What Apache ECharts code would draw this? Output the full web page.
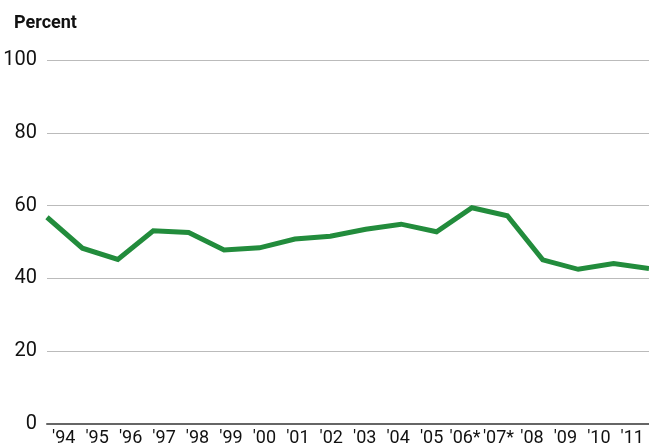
<!DOCTYPE html>
<html>
<head>
<meta charset="utf-8">
<script src="https://cdn.jsdelivr.net/npm/echarts@6/dist/echarts.min.js"></script>
<style>
  html, body { margin: 0; padding: 0; background: #fff; }
  #chart { width: 649px; height: 448px; }
</style>
</head>
<body>
<div id="chart"></div>
<script>
// years on the x axis
var years = ["'94", "'95", "'96", "'97", "'98", "'99", "'00", "'01", "'02", "'03",
             "'04", "'05", "'06*", "'07*", "'08", "'09", "'10", "'11"];
// percent values
var percent = [56.8, 48.3, 45.2, 53.1, 52.6, 47.8, 48.4, 50.8, 51.6, 53.5,
               54.9, 52.8, 59.4, 57.2, 45.1, 42.5, 44.1, 42.7];
var yTicks = [0, 20, 40, 60, 80, 100];

var fontFam = 'Roboto, sans-serif';

var myChart = echarts.init(document.getElementById('chart'));
var option = {
    animation: false,
    backgroundColor: '#ffffff',
    title: {
        text: 'Percent',
        left: 9,
        top: 9,
        textStyle: { fontFamily: fontFam, fontSize: 18, fontWeight: 'bold', color: '#111' }
    },
    grid: { left: 47, right: -3, top: 60, bottom: 24, containLabel: false },
    xAxis: [
        {
            // line positions: points sit on the ticks
            type: 'category',
            data: years,
            boundaryGap: false,
            axisLine: { show: true, lineStyle: { color: '#666', width: 2 } },
            axisTick: { show: false },
            axisLabel: { show: false },
            splitLine: { show: false }
        },
        {
            // labels sit between the ticks
            type: 'category',
            data: years,
            position: 'bottom',
            boundaryGap: true,
            axisLine: { show: false },
            axisTick: { show: false },
            axisLabel: {
                show: true,
                interval: 0,
                margin: 5,
                fontFamily: fontFam,
                fontSize: 18,
                color: '#111'
            },
            splitLine: { show: false }
        }
    ],
    yAxis: {
        type: 'value',
        min: yTicks[0],
        max: yTicks[yTicks.length - 1],
        interval: 20,
        axisLine: { show: false },
        axisTick: { show: false },
        axisLabel: { margin: 10, fontFamily: fontFam, fontSize: 20, color: '#111' },
        splitLine: { show: true, lineStyle: { color: '#bbbbbb', width: 1 } }
    },
    series: [
        {
            name: 'Percent',
            type: 'line',
            xAxisIndex: 0,
            data: percent,
            symbol: 'none',
            lineStyle: { color: '#228c3c', width: 5, join: 'miter' },
            z: 5
        }
    ]
};
myChart.setOption(option);
</script>
</body>
</html>
